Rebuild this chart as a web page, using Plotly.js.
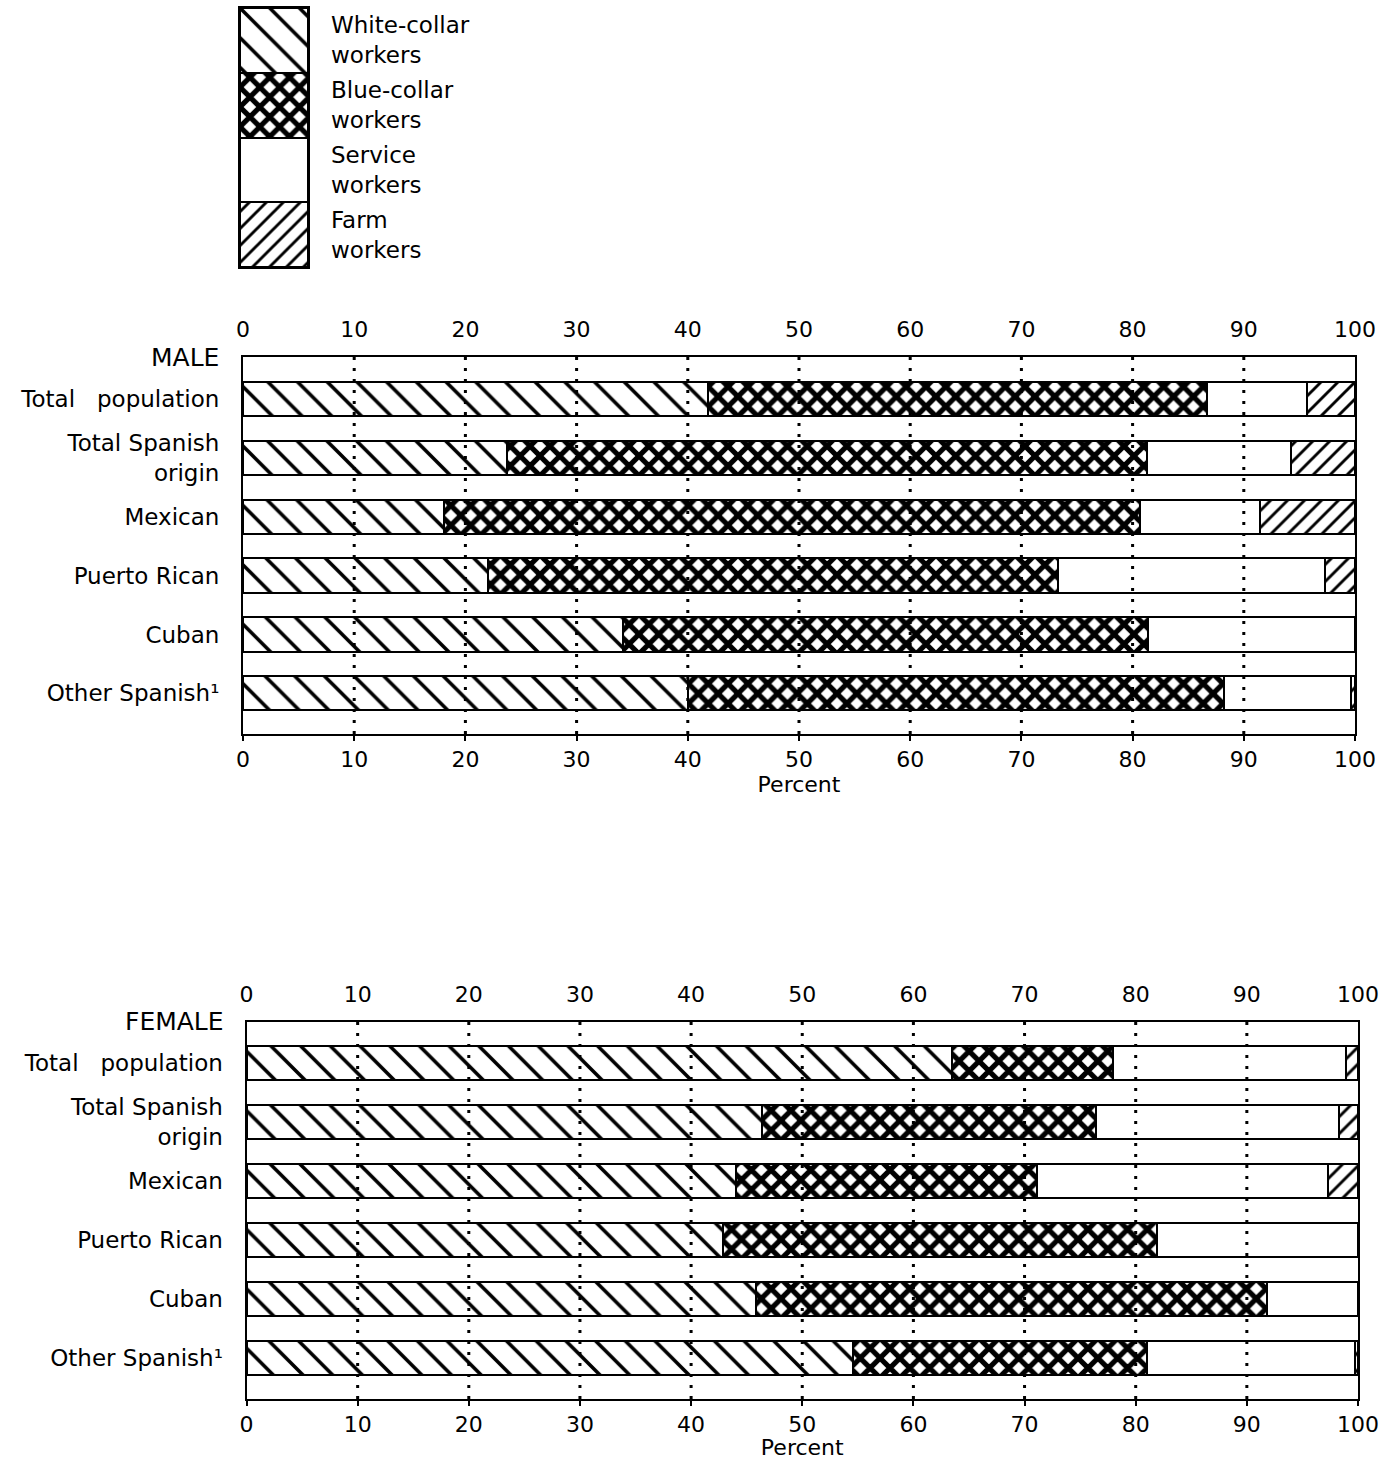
<!DOCTYPE html>
<html>
<head>
<meta charset="utf-8">
<script src="https://cdn.plot.ly/plotly-3.0.1.min.js"></script>
<style>
  html, body { margin: 0; padding: 0; background: #ffffff; }
  #chart { width: 1397px; height: 1460px; }
</style>
</head>
<body>
<div id="chart"></div>
<script>
// ---------- data (percent of employed persons) ----------
const categories = ["Total\u00a0\u00a0\u00a0population", "Total Spanish<br>origin", "Mexican", "Puerto Rican", "Cuban", "Other Spanish\u00b9"];
const seriesNames = ["White-collar workers", "Blue-collar workers", "Service workers", "Farm workers"];
const legendLabels = ["White-collar<br>workers", "Blue-collar<br>workers", "Service<br>workers", "Farm<br>workers"];

const maleWhite   = [41.8, 23.7, 18.1, 22.0, 34.2, 40.0];
const maleBlue    = [44.9, 57.6, 62.6, 51.3, 47.2, 48.2];
const maleService = [9.0, 12.9, 10.8, 24.0, 18.6, 11.4];
const maleFarm    = [4.3, 5.8, 8.5, 2.7, 0.0, 0.4];

const femaleWhite   = [63.5, 46.4, 44.0, 42.9, 45.8, 54.6];
const femaleBlue    = [14.5, 30.0, 27.1, 39.0, 46.0, 26.4];
const femaleService = [20.9, 21.9, 26.2, 18.1, 8.2, 18.7];
const femaleFarm    = [1.1, 1.7, 2.7, 0.0, 0.0, 0.3];

const tickValues = [0, 10, 20, 30, 40, 50, 60, 70, 80, 90, 100];
const gridValues = [10, 20, 30, 40, 50, 60, 70, 80, 90];
const legendUnit = [1];

// ---------- styles ----------
const FONT = "DejaVu Sans, Liberation Sans, Arial, sans-serif";
const patterns = [
  {shape: "\\", size: 21, solidity: 0.17, fgcolor: "#000", bgcolor: "#fff", fillmode: "replace"},
  {shape: "x",  size: 14, solidity: 0.6,  fgcolor: "#000", bgcolor: "#fff", fillmode: "replace"},
  {shape: "",   size: 10, solidity: 0.2,  fgcolor: "#000", bgcolor: "#fff", fillmode: "replace"},
  {shape: "/",  size: 12, solidity: 0.24, fgcolor: "#000", bgcolor: "#fff", fillmode: "replace"}
];

function barTrace(values, idx, xa, ya) {
  return {
    type: "bar", orientation: "h",
    x: values, y: categories,
    xaxis: xa, yaxis: ya,
    name: seriesNames[idx],
    width: 0.58,
    marker: {color: "#ffffff", pattern: patterns[idx], line: {color: "#000", width: 2}},
    showlegend: false, hoverinfo: "x+name"
  };
}

const traces = [];
[maleWhite, maleBlue, maleService, maleFarm].forEach((v, i) => traces.push(barTrace(v, i, "x", "y")));
[femaleWhite, femaleBlue, femaleService, femaleFarm].forEach((v, i) => traces.push(barTrace(v, i, "x3", "y3")));
// empty traces so top-label axes are drawn
traces.push({type: "scatter", x: [], y: [], xaxis: "x2", yaxis: "y", showlegend: false, hoverinfo: "skip"});
traces.push({type: "scatter", x: [], y: [], xaxis: "x4", yaxis: "y3", showlegend: false, hoverinfo: "skip"});
// key swatches
seriesNames.forEach((n, i) => traces.push({
  type: "bar", x: ["key"], y: legendUnit, xaxis: "x5", yaxis: "y5", name: n, width: 1,
  marker: {color: "#fff", pattern: patterns[i], line: {color: "#000", width: 2}},
  showlegend: false, hoverinfo: "name"
}));

const W = 1397, H = 1460;
const maleDomX = [243 / W, 1355 / W];
const femaleDomX = [246.5 / W, 1358 / W];
const maleDomY = [1 - 734 / H, 1 - 357 / H];
const femaleDomY = [1 - 1399 / H, 1 - 1021.5 / H];

function bottomAxis(dom, anchor) {
  return {
    domain: dom, anchor: anchor, range: [0, 100], tickvals: tickValues,
    showgrid: false, zeroline: false,
    showline: true, mirror: true, linecolor: "#000", linewidth: 2,
    ticks: "outside", ticklen: 5, tickwidth: 2, tickcolor: "#000",
    tickfont: {family: FONT, size: 22, color: "#000"},
    title: {text: "Percent", font: {family: FONT, size: 22, color: "#000"}, standoff: 5},
    fixedrange: true
  };
}
function topAxis(over, anchor) {
  return {
    overlaying: over, anchor: anchor, side: "top", range: [0, 100], tickvals: tickValues,
    showgrid: false, zeroline: false, showline: false,
    ticks: "outside", ticklen: 10, tickcolor: "rgba(0,0,0,0)",
    tickfont: {family: FONT, size: 22, color: "#000"},
    fixedrange: true
  };
}
function catAxis(dom, anchor, range) {
  return {
    domain: dom, anchor: anchor, type: "category",
    categoryorder: "array", categoryarray: categories,
    range: range, showgrid: false, zeroline: false,
    showline: true, mirror: true, linecolor: "#000", linewidth: 2,
    ticks: "outside", ticklen: 17, tickcolor: "rgba(0,0,0,0)",
    tickfont: {family: FONT, size: 23, color: "#000"},
    fixedrange: true
  };
}

const shapes = [];
[["x", "y"], ["x3", "y3"]].forEach(([xa, ya]) => {
  gridValues.forEach(v => shapes.push({
    type: "line", xref: xa, yref: ya + " domain", x0: v, x1: v, y0: 0, y1: 1,
    layer: "above", line: {color: "#000", width: 3, dash: "3px,8px"}
  }));
});

const annotations = [
  {text: "MALE", xref: "paper", x: 221 / W, xanchor: "right", yref: "y domain", y: 1, yanchor: "middle",
   showarrow: false, font: {family: FONT, size: 25, color: "#000"}},
  {text: "FEMALE", xref: "paper", x: 226 / W, xanchor: "right", yref: "y3 domain", y: 1, yanchor: "middle",
   showarrow: false, font: {family: FONT, size: 25, color: "#000"}}
];
legendLabels.forEach((t, i) => annotations.push({
  text: t, xref: "paper", x: 329 / W, xanchor: "left", yref: "y5", y: i + 0.5, yanchor: "middle",
  align: "left", showarrow: false, font: {family: FONT, size: 23, color: "#000"}
}));

const layout = {
  width: W, height: H,
  margin: {l: 0, r: 0, t: 0, b: 0},
  paper_bgcolor: "#fff", plot_bgcolor: "#fff",
  barmode: "stack", bargap: 0,
  font: {family: FONT, color: "#000"},
  xaxis: bottomAxis(maleDomX, "y"),
  xaxis2: topAxis("x", "y"),
  yaxis: catAxis(maleDomY, "x", [5.69, -0.71]),
  xaxis3: bottomAxis(femaleDomX, "y3"),
  xaxis4: topAxis("x3", "y3"),
  yaxis3: catAxis(femaleDomY, "x3", [5.69, -0.70]),
  xaxis5: {domain: [240 / W, 308 / W], anchor: "y5", type: "category", range: [-0.5, 0.5],
           showticklabels: false, showgrid: false, zeroline: false, showline: true, mirror: true,
           linecolor: "#000", linewidth: 2, ticks: "", fixedrange: true},
  yaxis5: {domain: [1 - 267 / H, 1 - 8 / H], anchor: "x5", range: [4, 0],
           showticklabels: false, showgrid: false, zeroline: false, showline: true, mirror: true,
           linecolor: "#000", linewidth: 2, ticks: "", fixedrange: true},
  shapes: shapes,
  annotations: annotations,
  showlegend: false
};

Plotly.newPlot("chart", traces, layout, {displayModeBar: false, staticPlot: true});
</script>
</body>
</html>
